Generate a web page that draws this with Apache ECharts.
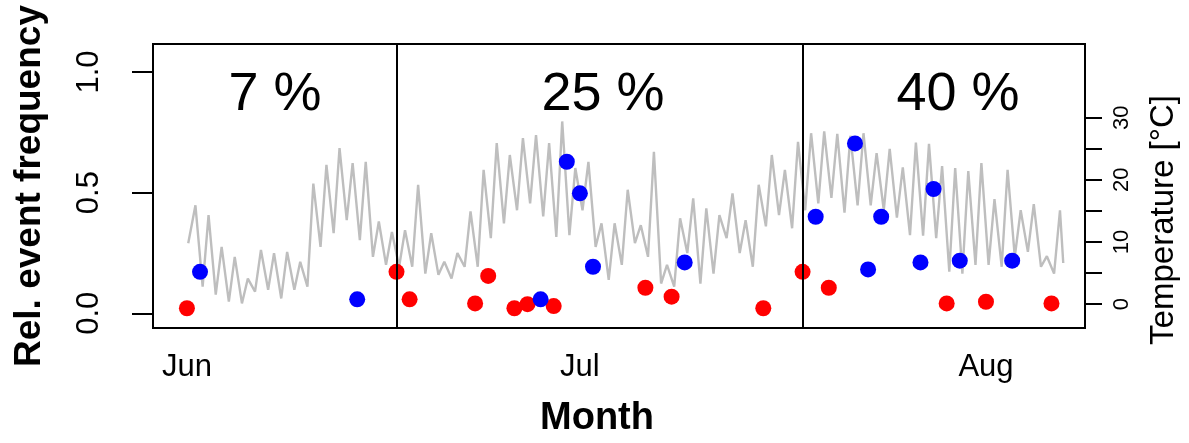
<!DOCTYPE html>
<html>
<head>
<meta charset="utf-8">
<script src="https://cdn.jsdelivr.net/npm/echarts@6/dist/echarts.min.js"></script>
<style>
html,body{margin:0;padding:0;background:#fff;}
#c{width:1189px;height:443px;}
</style>
</head>
<body>
<div id="c"></div>
<script>
// ---- data (x in days since 1 June) ----
const monthLabels = ['Jun', 'Jul', 'Aug'];
const monthDays = [0, 30, 61];
const leftTicks = [0, 0.5, 1.0];
const rightTicks = [0, 5, 10, 15, 20, 25, 30];
const rightLabels = [0, 10, 20, 30];
const periodBreaks = [16, 47];
const periodLabels = ['7 %', '25 %', '40 %'];
const periodLabelX = [6.73, 31.76, 58.86];
const periodLabelY = [0.905, 0.905, 0.905];

const redDays = [0, 16, 17, 22, 23, 25, 26, 28, 35, 37, 44, 47, 49, 58, 61, 66];
const redVals = [0.021, 0.172, 0.058, 0.041, 0.155, 0.021, 0.038, 0.030, 0.106, 0.069, 0.021, 0.172, 0.106, 0.041, 0.048, 0.041];
const blueDays = [1, 13, 27, 29, 30, 31, 38, 48, 51, 52, 53, 56, 57, 59, 63];
const blueVals = [0.172, 0.058, 0.058, 0.628, 0.497, 0.193, 0.211, 0.400, 0.704, 0.182, 0.400, 0.211, 0.515, 0.218, 0.218];

// daily temperature trough (early morning) and peak (afternoon), degC, days 0..66
const tempLow = [9.8, 2.8, 1.5, 0.4, 0.1, 2.0, 2.3, 0.9, 2.3, 2.8,
  9.2, 11.4, 13.5, 10.3, 7.6, 6.3, 6.0, 6.0, 4.9, 4.7,
  4.1, 6.0, 6.0, 10.6, 13.0, 15.1, 16.2, 14.1, 10.8, 11.1,
  15.1, 9.2, 3.9, 6.3, 9.8, 7.6, 3.3, 2.8, 8.2, 3.3,
  4.9, 10.6, 8.2, 6.0, 12.5, 14.3, 12.2, 15.1, 16.2, 17.1,
  14.7, 15.9, 15.9, 15.1, 13.9, 11.1, 11.0, 10.6, 5.2, 4.9,
  6.3, 6.3, 6.0, 7.6, 8.4, 6.0, 4.9];
const tempHigh = [15.9, 14.3, 9.2, 7.6, 4.1, 8.7, 8.2, 8.4, 6.8, 19.4,
  22.4, 25.1, 22.7, 22.9, 13.3, 11.6, 11.9, 19.2, 11.4, 6.8,
  8.2, 14.9, 21.6, 25.9, 24.0, 26.7, 27.2, 25.9, 29.4, 21.9,
  22.9, 13.0, 13.0, 18.4, 12.7, 24.5, 6.3, 13.8, 17.0, 15.4,
  14.3, 17.8, 13.5, 19.2, 24.0, 21.6, 26.1, 27.5, 27.8, 27.4,
  27.1, 27.5, 24.3, 25.0, 22.0, 26.0, 25.8, 22.2, 21.9, 21.4,
  22.7, 16.9, 21.6, 15.1, 16.1, 7.7, 15.1];
const tempEnd = [66.9, 6.6];
const lowHour = 0.2, highHour = 0.65;

// ---- build series data ----
const tempData = [];
for (let d = 0; d < tempLow.length; d++) {
  tempData.push([d === 0 ? 0.1 : d + lowHour, tempLow[d]]);
  tempData.push([d + highHour, tempHigh[d]]);
}
tempData.push(tempEnd);
const redData = redDays.map((d, i) => [d, redVals[i]]);
const blueData = blueDays.map((d, i) => [d, blueVals[i]]);
const pctData = periodLabels.map((t, i) => ({ value: [periodLabelX[i], periodLabelY[i]], name: t }));

const FONT = '"Liberation Sans", Arial, sans-serif';
const chart = echarts.init(document.getElementById('c'), null, { renderer: 'canvas' });
chart.setOption({
  backgroundColor: '#ffffff',
  animation: false,
  grid: {
    left: 153, right: 104, top: 44, bottom: 115,
    show: true, borderColor: '#000', borderWidth: 2, backgroundColor: 'transparent',
    containLabel: false, outerBoundsMode: 'none'
  },
  xAxis: {
    type: 'value', min: -2.59, max: 68.56,
    axisLine: { show: true, onZero: false, lineStyle: { color: '#000', width: 2 } },
    splitLine: { show: false },
    axisTick: { show: false },
    axisLabel: {
      customValues: monthDays,
      formatter: v => monthLabels[monthDays.indexOf(v)] || '',
      fontFamily: FONT, fontSize: 31, color: '#000', margin: 24
    },
    name: 'Month', nameLocation: 'middle', nameGap: 72, nameMoveOverlap: false,
    nameTextStyle: { fontFamily: FONT, fontSize: 38, fontWeight: 'bold', color: '#000',
      padding: [0, 44, 0, 0] }
  },
  yAxis: [
    {
      type: 'value', min: -0.0609, max: 1.116, position: 'left',
      axisLine: { show: true, onZero: false, lineStyle: { color: '#000', width: 2 } },
      splitLine: { show: false },
      axisTick: { show: true, customValues: leftTicks, length: 21, inside: false,
        lineStyle: { color: '#000', width: 2 } },
      axisLabel: {
        customValues: leftTicks, rotate: 90,
        formatter: v => v.toFixed(1),
        fontFamily: FONT, fontSize: 31, color: '#000', margin: 48
      },
      name: 'Rel. event frequency', nameLocation: 'middle', nameGap: 105, nameRotate: 90,
      nameMoveOverlap: false,
      nameTextStyle: { fontFamily: FONT, fontSize: 37, fontWeight: 'bold', color: '#000' }
    },
    {
      type: 'value', min: -3.86, max: 41.87, position: 'right',
      axisLine: { show: true, onZero: false, lineStyle: { color: '#000', width: 2 } },
      splitLine: { show: false },
      axisTick: { show: true, customValues: rightTicks, length: 17, inside: false,
        lineStyle: { color: '#000', width: 2 } },
      axisLabel: {
        customValues: rightLabels, rotate: 90,
        formatter: v => String(v),
        fontFamily: FONT, fontSize: 22, color: '#000', margin: 26
      },
      name: 'Temperature [°C]', nameLocation: 'middle', nameGap: 62, nameRotate: 90,
      nameMoveOverlap: false,
      nameTextStyle: { fontFamily: FONT, fontSize: 33, color: '#000',
        padding: [0, 68, 0, 0] }
    }
  ],
  series: [
    {
      type: 'line', yAxisIndex: 1, data: tempData, symbol: 'none',
      lineStyle: { color: '#bebebe', width: 2.4 }, z: 1, silent: true
    },
    {
      type: 'scatter', yAxisIndex: 0, data: redData, symbol: 'circle', symbolSize: 16,
      itemStyle: { color: '#ff0000', opacity: 1 }, z: 3
    },
    {
      type: 'scatter', yAxisIndex: 0, data: blueData, symbol: 'circle', symbolSize: 16,
      itemStyle: { color: '#0000ff', opacity: 1 }, z: 3
    },
    {
      type: 'scatter', yAxisIndex: 0, data: pctData, symbolSize: 0, z: 4,
      itemStyle: { opacity: 1 },
      label: { show: true, position: 'inside', formatter: p => p.name,
        fontFamily: FONT, fontSize: 54, color: '#000', opacity: 1 }
    },
    {
      type: 'line', yAxisIndex: 0, data: [], z: 5,
      markLine: {
        silent: true, symbol: ['none', 'none'], label: { show: false },
        lineStyle: { color: '#000', width: 2, type: 'solid', opacity: 1 },
        data: periodBreaks.map(x => ({ xAxis: x }))
      }
    }
  ]
});
</script>
</body>
</html>
